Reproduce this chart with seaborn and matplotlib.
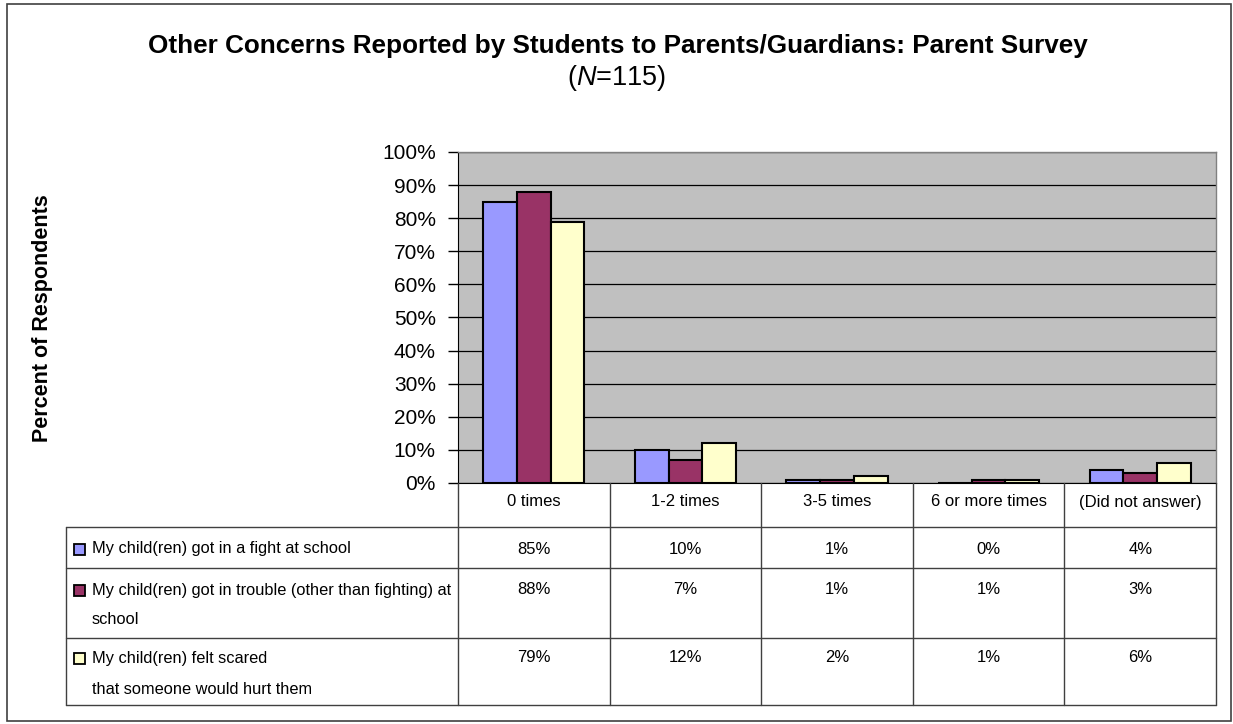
import matplotlib
matplotlib.use("Agg")
import matplotlib.pyplot as plt
from matplotlib.patches import Rectangle
import numpy as np
import pandas as pd
import seaborn as sns

# Chart data
categories = ["0 times", "1-2 times", "3-5 times", "6 or more times", "(Did not answer)"]
series = [
    "My child(ren) got in a fight at school",
    "My child(ren) got in trouble (other than fighting) at school",
    "My child(ren) felt scared that someone would hurt them",
]
series_lines = [
    ["My child(ren) got in a fight at school"],
    ["My child(ren) got in trouble (other than fighting) at", "school"],
    ["My child(ren) felt scared", "that someone would hurt them"],
]
fight = [85, 10, 1, 0, 4]
trouble = [88, 7, 1, 1, 3]
scared = [79, 12, 2, 1, 6]
colors = ["#9999FF", "#993366", "#FFFFCC"]

values = [fight, trouble, scared]
df = pd.DataFrame(
    [(c, s, v) for s, vals in zip(series, values) for c, v in zip(categories, vals)],
    columns=["category", "series", "value"],
)

sns.set_style("white")
plt.rcParams["font.family"] = ["Liberation Sans", "DejaVu Sans"]
plt.rcParams["mathtext.fontset"] = "custom"
plt.rcParams["mathtext.rm"] = "Liberation Sans"
plt.rcParams["mathtext.it"] = "Liberation Sans:italic"
plt.rcParams["text.color"] = "black"
plt.rcParams["ytick.color"] = "black"
plt.rcParams["ytick.labelcolor"] = "black"

W, H = 1233, 724
fig = plt.figure(figsize=(W / 100, H / 100), dpi=100)
fig.patch.set_facecolor("white")

# plot area in pixels (left, top, right, bottom)
L, T, R, B = 458, 152, 1216, 483
ax = fig.add_axes([L / W, 1 - B / H, (R - L) / W, (B - T) / H])
sns.barplot(data=df, x="category", y="value", hue="series", order=categories,
            hue_order=series, palette=colors, saturation=1, width=0.667,
            edgecolor="black", linewidth=1.5, legend=False, ax=ax, zorder=3)
ax.set_facecolor("#C0C0C0")
ax.set_xlim(-0.5, len(categories) - 0.5)
ax.set_ylim(0, 100)
ax.set_yticks(np.arange(0, 101, 10))
ax.set_yticklabels([f"{v}%" for v in range(0, 101, 10)], fontsize=15)
ax.yaxis.grid(True, color="#000000", linewidth=0.9)
ax.set_axisbelow(True)
ax.set_xticks([])
ax.set_xlabel("")
ax.set_ylabel("")
ax.tick_params(axis="y", length=7, width=1, pad=9, left=True, color="black")
for side in ["top", "right"]:
    ax.spines[side].set_color("#808080")
    ax.spines[side].set_linewidth(1)
ax.spines["left"].set_color("black")
ax.spines["bottom"].set_color("black")

# overlay axes in pixel coordinates, origin top-left
ov = fig.add_axes([0, 0, 1, 1])
ov.set_xlim(0, W)
ov.set_ylim(H, 0)
ov.axis("off")
ov.patch.set_visible(False)


def col_px(x):
    return ax.transData.transform((x, 0))[0]


edges = [col_px(i - 0.5) for i in range(len(categories) + 1)]
centers = [col_px(i) for i in range(len(categories))]

line_kw = dict(color="#404040", linewidth=1)
tab_left = 66
row_y = [B, 527, 568, 638, 705]
for y in row_y[1:]:
    ov.plot([tab_left, edges[-1]], [y, y], **line_kw)
ov.plot([tab_left, tab_left], [row_y[1], row_y[-1]], **line_kw)
for x in edges:
    ov.plot([x, x], [B, row_y[-1]], **line_kw)

# header
for c, x in zip(categories, centers):
    ov.text(x, 502, c, ha="center", va="center", fontsize=12)

# rows
label_y = [[549], [590, 620], [658, 689]]
value_y = [549, 589, 658]
for i in range(len(series)):
    ov.add_patch(Rectangle((74, label_y[i][0] - 5.5), 11, 11, facecolor=colors[i],
                           edgecolor="black", linewidth=1.3))
    for txt, y in zip(series_lines[i], label_y[i]):
        ov.text(92, y, txt, ha="left", va="center", fontsize=11.8)
    for x, v in zip(centers, values[i]):
        ov.text(x, value_y[i], f"{v}%", ha="center", va="center", fontsize=12)

# titles and axis label
ov.text(618, 46, "Other Concerns Reported by Students to Parents/Guardians: Parent Survey",
        ha="center", va="center", fontsize=18.8, fontweight="bold")
ov.text(617, 78, r"($\mathit{N}$=115)", ha="center", va="center", fontsize=19.5)
ov.text(43, 318, "Percent of Respondents", ha="center", va="center", rotation=90,
        fontsize=15.5, fontweight="bold")

# outer border
ov.add_patch(Rectangle((7, 4), 1224, 717, fill=False, edgecolor="#404040", linewidth=1.2))

fig.savefig("out.png", dpi=100)
